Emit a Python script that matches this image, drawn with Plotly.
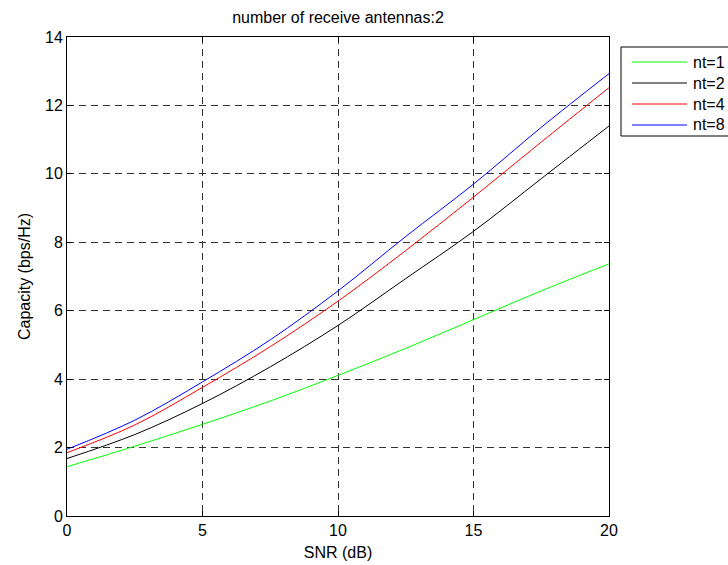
import plotly.graph_objects as go

snr = [0, 2.5, 5, 7.5, 10, 12.5, 15, 17.5, 20]
nt1 = [1.44, 2.04, 2.68, 3.36, 4.11, 4.90, 5.74, 6.58, 7.37]
nt2 = [1.68, 2.38, 3.29, 4.36, 5.57, 6.94, 8.32, 9.86, 11.40]
nt4 = [1.85, 2.66, 3.76, 4.95, 6.28, 7.76, 9.32, 10.93, 12.52]
nt8 = [1.95, 2.80, 3.92, 5.15, 6.58, 8.17, 9.70, 11.36, 12.93]

series_names = ["nt=1", "nt=2", "nt=4", "nt=8"]
series_vals = [nt1, nt2, nt4, nt8]
series_colors = ["#00ff00", "#000000", "#ff0000", "#0000ff"]

x_ticks = [0, 5, 10, 15, 20]
y_ticks = [0, 2, 4, 6, 8, 10, 12, 14]

FONT = "Liberation Sans, Arial, sans-serif"

# plot-area geometry in pixels (for converting the legend box to paper units)
L, R, T, B = 67, 609, 37, 516
def px(xp):
    return (xp - L) / (R - L)
def py(yp):
    return (B - yp) / (B - T)

fig = go.Figure()
for name, vals, col in zip(series_names, series_vals, series_colors):
    fig.add_trace(go.Scatter(x=snr, y=vals, mode="lines", name=name, showlegend=False,
                             line=dict(color=col, width=1, shape="spline", smoothing=1.0)))

axis_common = dict(
    showline=True, linecolor="black", linewidth=1, mirror="ticks",
    ticks="inside", ticklen=5, tickcolor="black",
    showgrid=True, gridcolor="#333333", gridwidth=1, griddash="7px,5px",
    zeroline=False, automargin=False,
    tickfont=dict(family=FONT, size=16, color="black"),
)

# legend drawn as box + sample lines + text
shapes = [dict(type="rect", xref="paper", yref="paper",
               x0=px(621), x1=px(740), y0=py(136), y1=py(47),
               line=dict(color="black", width=1), fillcolor="white", layer="above")]
annotations = []
row_y = [62, 83, 104, 125]
for name, col, yy in zip(series_names, series_colors, row_y):
    shapes.append(dict(type="line", xref="paper", yref="paper",
                       x0=px(632), x1=px(687), y0=py(yy), y1=py(yy),
                       line=dict(color=col, width=1), layer="above"))
    annotations.append(dict(text=name, xref="paper", yref="paper",
                            x=px(691), y=py(yy), xanchor="left", yanchor="middle",
                            showarrow=False, font=dict(family=FONT, size=16, color="black")))

fig.update_layout(
    width=728, height=565,
    margin=dict(l=L, r=728 - R, t=T, b=565 - B),
    paper_bgcolor="white", plot_bgcolor="white",
    font=dict(family=FONT, color="black"),
    title=dict(text="number of receive antennas:2", x=338/728, xanchor="center",
               y=1 - 17/565, yanchor="middle", yref="container",
               font=dict(family=FONT, size=16, color="black")),
    xaxis=dict(range=[0, 20], tickvals=x_ticks,
               title=dict(text="SNR (dB)", font=dict(family=FONT, size=16), standoff=8),
               **axis_common),
    yaxis=dict(range=[0, 14], tickvals=y_ticks,
               title=dict(text="Capacity (bps/Hz)", font=dict(family=FONT, size=16), standoff=10),
               **axis_common),
    shapes=shapes,
    annotations=annotations,
    showlegend=False,
)

fig.write_html("out.html")
